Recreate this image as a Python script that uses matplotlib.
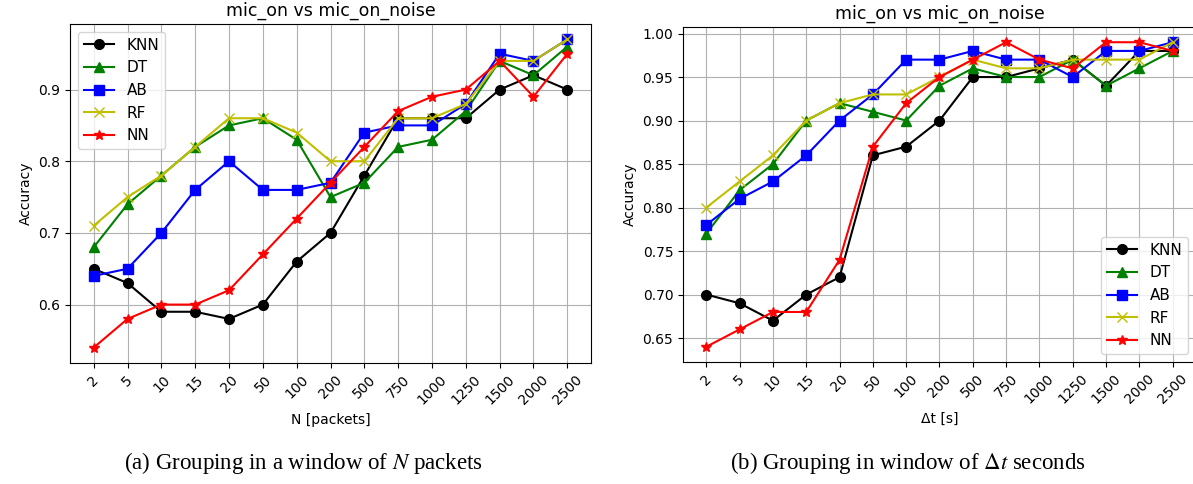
import matplotlib
matplotlib.use('Agg')
import matplotlib.pyplot as plt

plt.rcParams['mathtext.fontset'] = 'stix'  # 说明文字里的斜体与 Times 风格一致

# 窗口大小（两个子图共用同一组刻度标签）
window_labels = ['2', '5', '10', '15', '20', '50', '100', '200', '500', '750',
                 '1000', '1250', '1500', '2000', '2500']

# (a) 按 N 个数据包分组
knn_a = [0.65, 0.63, 0.59, 0.59, 0.58, 0.60, 0.66, 0.70, 0.78, 0.86, 0.86, 0.86, 0.90, 0.92, 0.90]
dt_a = [0.68, 0.74, 0.78, 0.82, 0.85, 0.86, 0.83, 0.75, 0.77, 0.82, 0.83, 0.87, 0.94, 0.92, 0.96]
ab_a = [0.64, 0.65, 0.70, 0.76, 0.80, 0.76, 0.76, 0.77, 0.84, 0.85, 0.85, 0.88, 0.95, 0.94, 0.97]
rf_a = [0.71, 0.75, 0.78, 0.82, 0.86, 0.86, 0.84, 0.80, 0.80, 0.86, 0.86, 0.88, 0.94, 0.94, 0.97]
nn_a = [0.54, 0.58, 0.60, 0.60, 0.62, 0.67, 0.72, 0.77, 0.82, 0.87, 0.89, 0.90, 0.94, 0.89, 0.95]

# (b) 按 Δt 秒分组
knn_b = [0.70, 0.69, 0.67, 0.70, 0.72, 0.86, 0.87, 0.90, 0.95, 0.95, 0.96, 0.97, 0.94, 0.98, 0.98]
dt_b = [0.77, 0.82, 0.85, 0.90, 0.92, 0.91, 0.90, 0.94, 0.96, 0.95, 0.95, 0.97, 0.94, 0.96, 0.98]
ab_b = [0.78, 0.81, 0.83, 0.86, 0.90, 0.93, 0.97, 0.97, 0.98, 0.97, 0.97, 0.95, 0.98, 0.98, 0.99]
rf_b = [0.80, 0.83, 0.86, 0.90, 0.92, 0.93, 0.93, 0.95, 0.97, 0.96, 0.96, 0.97, 0.97, 0.97, 0.99]
nn_b = [0.64, 0.66, 0.68, 0.68, 0.74, 0.87, 0.92, 0.95, 0.97, 0.99, 0.97, 0.96, 0.99, 0.99, 0.98]

model_names = ['KNN', 'DT', 'AB', 'RF', 'NN']
styles = [('k', 'o'), ('g', '^'), ('b', 's'), ('y', 'x'), ('r', '*')]


def draw_panel(ax, series, xlabel, legend_loc):
    x = range(len(window_labels))
    for name, ys, (c, m) in zip(model_names, series, styles):
        ax.plot(x, ys, color=c, marker=m, markersize=7, linewidth=1.5, label=name)
    ax.set_xticks(list(x))
    ax.set_xticklabels(window_labels, rotation=45)
    ax.set_title('mic_on vs mic_on_noise', fontsize=12.5)
    ax.set_xlabel(xlabel)
    ax.set_ylabel('Accuracy')
    ax.grid(True)
    ax.legend(loc=legend_loc, fontsize=11)


fig = plt.figure(figsize=(11.93, 4.84), dpi=100)
ax_a = fig.add_axes([70 / 1193, 1 - 363 / 484, 521 / 1193, 339 / 484])
ax_b = fig.add_axes([683 / 1193, 1 - 362 / 484, 513 / 1193, 335 / 484])

draw_panel(ax_a, [knn_a, dt_a, ab_a, rf_a, nn_a], 'N [packets]', 'upper left')
draw_panel(ax_b, [knn_b, dt_b, ab_b, rf_b, nn_b], 'Δt [s]', 'lower right')

# 子图说明文字
fig.text(303 / 1193, 1 - 463 / 484, '(a) Grouping in a window of $\\mathit{N}$ packets',
         ha='center', va='center', family='Liberation Serif', fontsize=16.5)
fig.text(908 / 1193, 1 - 463 / 484, '(b) Grouping in window of $\\Delta\\mathit{t}$ seconds',
         ha='center', va='center', family='Liberation Serif', fontsize=16.5)

fig.savefig('out.png', dpi=100)
